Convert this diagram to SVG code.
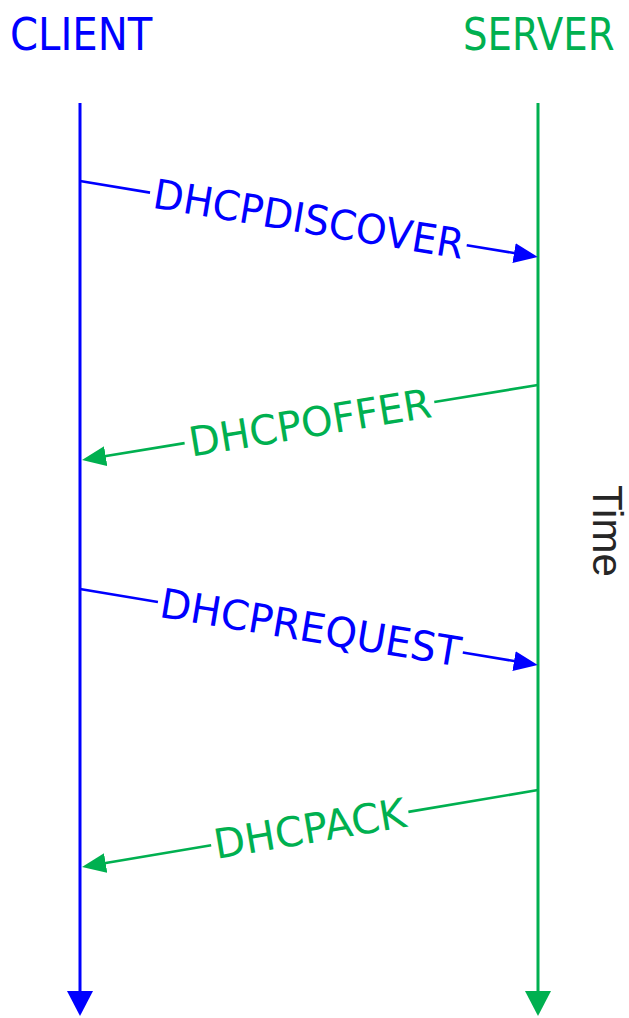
<svg xmlns="http://www.w3.org/2000/svg" width="629" height="1018" viewBox="0 0 629 1018">
<defs>
<style>
.lbl{font-family:"DejaVu Sans","Verdana",sans-serif;font-size:45px;}
.msg{font-family:"DejaVu Sans","Verdana",sans-serif;font-size:41px;text-anchor:middle;}
.blue{fill:#0000FF;}
.green{fill:#00B050;}
.bl{stroke:#0000FF;stroke-width:2.6;fill:none;}
.gl{stroke:#00B050;stroke-width:2.6;fill:none;}
.life{stroke-width:3;fill:none;}
</style>
<marker id="ahB" viewBox="0 0 24 20" refX="12" refY="10" markerWidth="24" markerHeight="20" markerUnits="userSpaceOnUse" orient="auto"><path d="M0,0 L24,10 L0,20 z" fill="#0000FF"/></marker>
<marker id="ahG" viewBox="0 0 24 20" refX="12" refY="10" markerWidth="24" markerHeight="20" markerUnits="userSpaceOnUse" orient="auto"><path d="M0,0 L24,10 L0,20 z" fill="#00B050"/></marker>
<marker id="lhB" viewBox="0 0 25 26" refX="13" refY="13" markerWidth="25" markerHeight="26" markerUnits="userSpaceOnUse" orient="auto"><path d="M0,0 L25,13 L0,26 z" fill="#0000FF"/></marker>
<marker id="lhG" viewBox="0 0 25 26" refX="13" refY="13" markerWidth="25" markerHeight="26" markerUnits="userSpaceOnUse" orient="auto"><path d="M0,0 L25,13 L0,26 z" fill="#00B050"/></marker>
</defs>
<rect width="629" height="1018" fill="#FFFFFF"/>

<g id="client">
<text class="lbl blue" transform="translate(10,50) scale(0.893,1)" x="0" y="0">CLIENT</text>
</g>
<g id="server">
<text class="lbl green" transform="translate(463,50) scale(0.86,1)" x="0" y="0">SERVER</text>
</g>
<g id="time">
<text transform="translate(593,485) rotate(90)" x="0" y="0" font-family="Liberation Sans, Arial, sans-serif" font-size="42" fill="#262626">Time</text>
</g>

<g id="connectors">
<line class="life" stroke="#0000FF" x1="80" y1="103" x2="80" y2="1004" marker-end="url(#lhB)"/>
<line class="life" stroke="#00B050" x1="538" y1="103" x2="538" y2="1004" marker-end="url(#lhG)"/>

<g id="discover" transform="translate(80,181) rotate(9.42)">
<line class="bl" x1="0" y1="0" x2="71" y2="0"/>
<line class="bl" x1="392" y1="0" x2="452" y2="0" marker-end="url(#ahB)"/>
<text class="msg blue" x="232" y="14.5" textLength="314" lengthAdjust="spacingAndGlyphs">DHCPDISCOVER</text>
</g>

<g id="offer" transform="translate(82,460) rotate(-9.34)">
<line class="gl" x1="104" y1="0" x2="12" y2="0" marker-end="url(#ahG)"/>
<line class="gl" x1="357" y1="0" x2="462" y2="0"/>
<text class="msg green" x="231" y="14.5" textLength="245" lengthAdjust="spacingAndGlyphs">DHCPOFFER</text>
</g>

<g id="request" transform="translate(80,589) rotate(9.42)">
<line class="bl" x1="0" y1="0" x2="79" y2="0"/>
<line class="bl" x1="388" y1="0" x2="452" y2="0" marker-end="url(#ahB)"/>
<text class="msg blue" x="233.7" y="14.5" textLength="304" lengthAdjust="spacingAndGlyphs">DHCPREQUEST</text>
</g>

<g id="ack" transform="translate(82,867) rotate(-9.585)">
<line class="gl" x1="131" y1="0" x2="12" y2="0" marker-end="url(#ahG)"/>
<line class="gl" x1="331" y1="0" x2="462.5" y2="0"/>
<text class="msg green" x="231" y="14.5" textLength="194" lengthAdjust="spacingAndGlyphs">DHCPACK</text>
</g>
</g>
</svg>
